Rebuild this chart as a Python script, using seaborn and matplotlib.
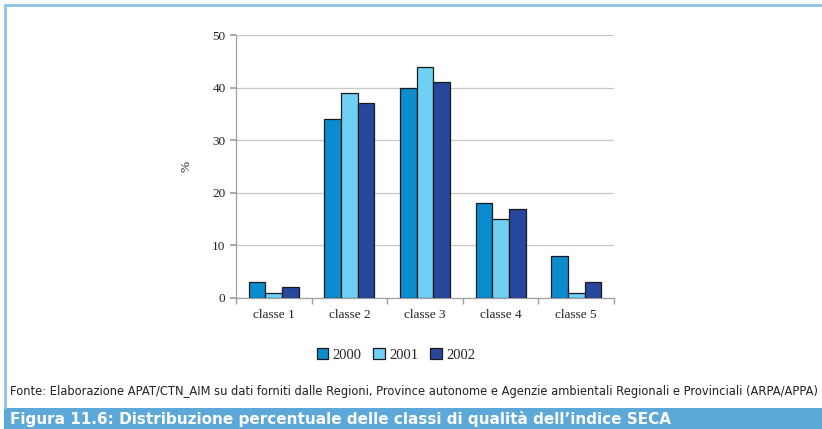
import matplotlib
matplotlib.use("Agg")
import matplotlib.pyplot as plt
from matplotlib.lines import Line2D
from matplotlib.patches import Rectangle
import seaborn as sns
import pandas as pd

classes = ["classe 1", "classe 2", "classe 3", "classe 4", "classe 5"]
years = ["2000", "2001", "2002"]
v2000 = [3, 34, 40, 18, 8]
v2001 = [1, 39, 44, 15, 1]
v2002 = [2, 37, 41, 17, 3]
colors = ["#0a8ccf", "#70d0f4", "#27479c"]

df = pd.DataFrame({
    "classe": classes * 3,
    "anno": [y for y in years for _ in classes],
    "valore": v2000 + v2001 + v2002,
})

sns.set_theme(style="white")
plt.rcParams["font.family"] = ["Liberation Serif", "DejaVu Serif"]

W, H = 822, 429
fig = plt.figure(figsize=(W / 100, H / 100), dpi=100)
ax = fig.add_axes([236 / W, (H - 298) / H, (614 - 236) / W, (298 - 35) / H])

sns.barplot(data=df, x="classe", y="valore", hue="anno", palette=colors,
            saturation=1, width=0.66, edgecolor="#1a1a1a", linewidth=0.9, ax=ax,
            legend=False, zorder=3)

ax.set_ylim(0, 50)
ax.set_yticks(range(0, 51, 10))
ax.set_xlim(-0.5, 4.5)
ax.yaxis.grid(True, color="#c8c8c8", linewidth=0.9, zorder=0)
ax.set_axisbelow(True)
for s in ["top", "right"]:
    ax.spines[s].set_visible(False)
for s in ["left", "bottom"]:
    ax.spines[s].set_color("#a0a0a0")
    ax.spines[s].set_linewidth(0.9)
ax.set_xticks([i - 0.5 for i in range(6)], minor=True)
ax.tick_params(axis="x", which="major", length=0, labelsize=9.5, pad=8, colors="#222222")
ax.tick_params(axis="x", which="minor", length=4, color="#a0a0a0", direction="out", bottom=True)
ax.tick_params(axis="y", length=4, direction="out", labelsize=9.5, left=True,
               color="#a0a0a0", labelcolor="#222222")
ax.set_xlabel("")
ax.set_ylabel("%", fontsize=9.5, color="#222222", labelpad=14)

handles = [Rectangle((0, 0), 1, 1, facecolor=c, edgecolor="#1a1a1a", linewidth=0.9)
           for c in colors]
fig.legend(handles, years, loc="center", bbox_to_anchor=(396 / W, (H - 355) / H),
           ncol=3, frameon=False, fontsize=10.5, handlelength=0.8, handleheight=0.8,
           handletextpad=0.3, columnspacing=0.8)

# page frame and caption bar
frame = "#8cc4e6"
fig.add_artist(Line2D([5 / W, 5 / W], [(H - 408) / H, (H - 5) / H],
                      color=frame, linewidth=2, transform=fig.transFigure))
fig.add_artist(Line2D([5 / W, 1], [(H - 5) / H, (H - 5) / H],
                      color=frame, linewidth=2, transform=fig.transFigure))
fig.add_artist(Rectangle((4 / W, 0), 1, (H - 408) / H, transform=fig.transFigure,
                         facecolor="#5ba8d9", edgecolor="none"))

sans = ["DejaVu Sans"]
fig.text(10 / W, (H - 391) / H,
         "Fonte: Elaborazione APAT/CTN_AIM su dati forniti dalle Regioni, Province autonome "
         "e Agenzie ambientali Regionali e Provinciali (ARPA/APPA)",
         fontsize=8.3, family=sans, color="#222222", va="center", ha="left")
fig.text(10 / W, (H - 419) / H,
         "Figura 11.6: Distribuzione percentuale delle classi di qualità dell\u2019indice SECA",
         fontsize=11, family=sans, weight="bold", color="white", va="center", ha="left")

fig.savefig("out.png", dpi=100)
